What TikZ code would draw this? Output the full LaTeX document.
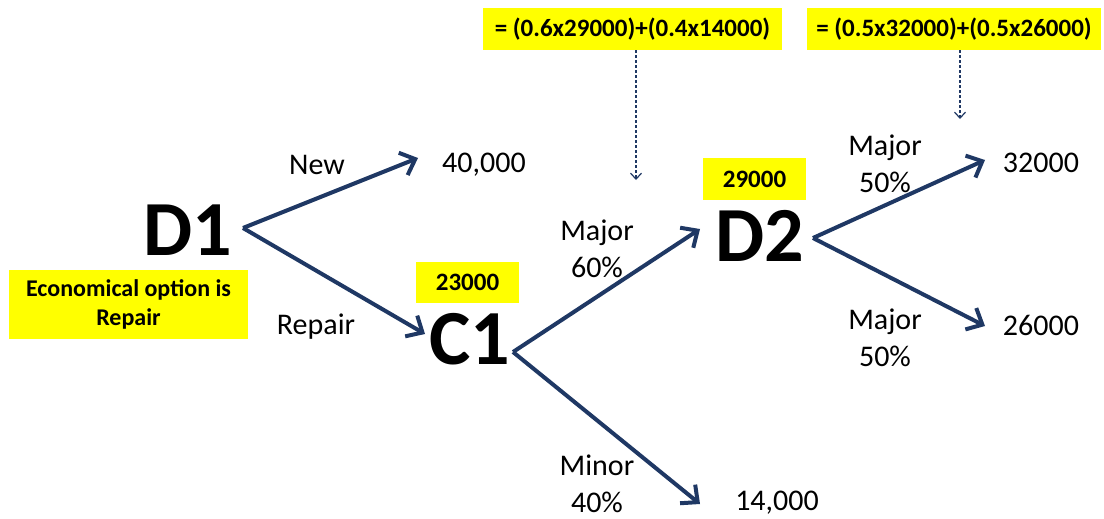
\documentclass[tikz,border=0pt]{standalone}
\usepackage{fontspec}
\setmainfont{Carlito}
\usetikzlibrary{arrows.meta}
\definecolor{arrblue}{RGB}{31,56,100}
\definecolor{hlyellow}{RGB}{255,255,0}
\begin{document}
\begin{tikzpicture}[x=1pt,y=-1pt,
  big/.style={inner sep=0pt,font=\fontsize{78}{80}\selectfont\bfseries},
  lbl/.style={inner sep=0pt,align=center,font=\fontsize{30}{37}\selectfont},
  ybox/.style={fill=hlyellow,inner sep=0pt,align=center,font=\fontsize{25}{29}\selectfont\bfseries},
  branch/.style={draw=arrblue,line width=4pt,-{Straight Barb[length=13pt,width=24pt,line width=4pt]}},
  note/.style={draw=arrblue,line width=1.4pt,dash pattern=on 3pt off 2pt,-{Straight Barb[length=6pt,width=11pt,line width=1.2pt]}}]
\useasboundingbox (0,0) rectangle (1104,519);
% main nodes
\node[big] (D1) at (188,230) {D1};
\node[big] (C1) at (470,339) {C1};
\node[big] (D2) at (760,236) {D2};
% end values
\node[lbl] (v40) at (484,165) {40,000};
\node[lbl] (v14) at (777,503) {14,000};
\node[lbl] (v32) at (1041,163) {32000};
\node[lbl] (v26) at (1041,325) {26000};
% branch labels
\node[lbl] (lnew) at (317,165) {New};
\node[lbl] (lrep) at (316,327) {Repair};
\node[lbl] (lmaj6) at (597,249) {Major\\60\%};
\node[lbl] (lmin4) at (597,484) {Minor\\40\%};
\node[lbl] (lmaj5a) at (885,164) {Major\\50\%};
\node[lbl] (lmaj5b) at (885,338) {Major\\50\%};
% yellow boxes
\node[ybox,minimum width=299pt,minimum height=42pt] (f1) at (632.5,29) {= (0.6x29000)+(0.4x14000)};
\node[ybox,minimum width=294pt,minimum height=42pt] (f2) at (954,29) {= (0.5x32000)+(0.5x26000)};
\node[ybox,minimum width=103pt,minimum height=42pt] (b29) at (754.5,179) {29000};
\node[ybox,minimum width=103pt,minimum height=41pt] (b23) at (467.5,282.5) {23000};
\node[ybox,minimum width=239pt,minimum height=69pt,font=\fontsize{24}{29}\selectfont\bfseries] (econ) at (128.5,304.5) {Economical option is\\Repair};
% connector anchors
\coordinate (sD1) at (243,228);
\coordinate (sC1) at (513,352);
\coordinate (sD2) at (813,238);
\coordinate (tNew) at (418,158);
\coordinate (tRep) at (425,334);
\coordinate (tMaj6) at (700,229);
\coordinate (tMin4) at (700,504);
\coordinate (tMaj5a) at (985,160);
\coordinate (tMaj5b) at (985,326);
\coordinate (tf1) at (636,180);
\coordinate (tf2) at (960,119);
% branches
\draw[branch] (sD1) -- (tNew);
\draw[branch] (sD1) -- (tRep);
\draw[branch] (sC1) -- (tMaj6);
\draw[branch] (sC1) -- (tMin4);
\draw[branch] (sD2) -- (tMaj5a);
\draw[branch] (sD2) -- (tMaj5b);
% dashed pointers
\draw[note] (f1.south -| tf1) -- (tf1);
\draw[note] (f2.south -| tf2) -- (tf2);
\end{tikzpicture}
\end{document}
